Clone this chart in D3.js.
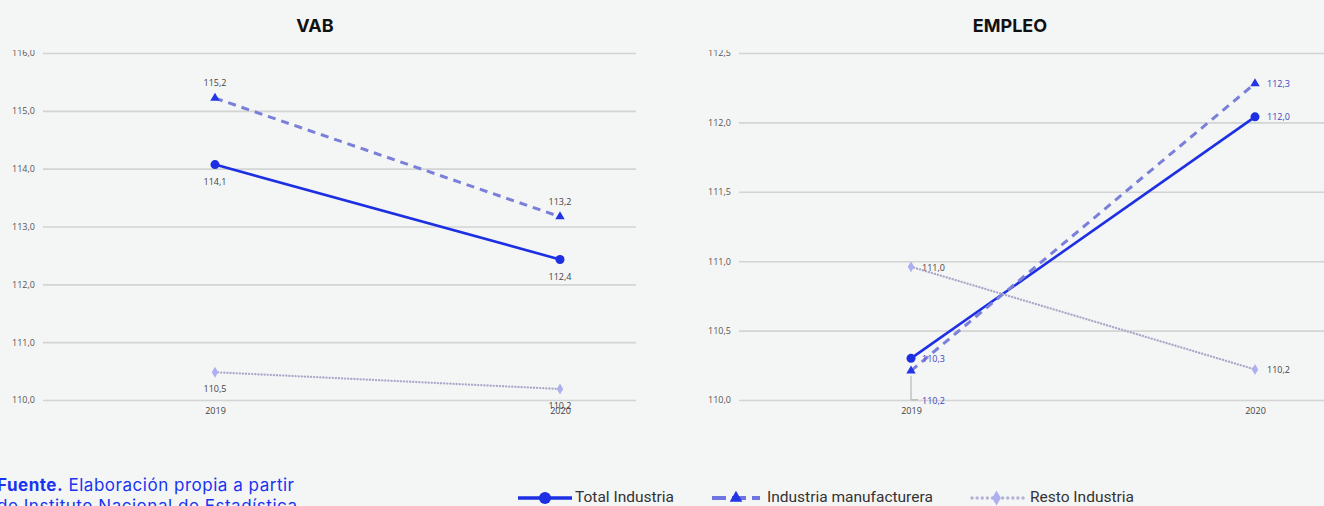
<!DOCTYPE html>
<html><head><meta charset="utf-8">
<script src="https://cdn.jsdelivr.net/npm/d3@7"></script>
<style>
html,body{margin:0;padding:0;background:#f4f5f5;}
svg{display:block;}
</style></head>
<body>
<svg id="c" width="1324" height="506"></svg>
<script>
// ---- data ----
const years = ["2019", "2020"];
const seriesNames = ["Total Industria", "Industria manufacturera", "Resto Industria"];
const vabTotal = [114.07, 112.43];
const vabManuf = [115.22, 113.17];
const vabResto = [110.48, 110.19];
const empTotal = [110.30, 112.04];
const empManuf = [110.21, 112.28];
const empResto = [110.96, 110.22];
const vabTicks = [110, 111, 112, 113, 114, 115, 116];
const empTicks = [110, 110.5, 111, 111.5, 112, 112.5];
const chartTitles = ["VAB", "EMPLEO"];

const fmt = d => d.toFixed(1).replace('.', ',');
const svg = d3.select("#c");
svg.append("rect").attr("width",1324).attr("height",506).attr("fill","#f4f5f5");

const styles = [
  {stroke:"#1d2fe3", width:2.6, dash:null, cap:"butt", marker:"circle", mfill:"#1d2fe3"},
  {stroke:"#7a7fd9", width:3, dash:"8,6", cap:"butt", marker:"triangle", mfill:"#2236e6"},
  {stroke:"#a9a9c9", width:2.3, dash:"0.1,3", cap:"round", marker:"diamond", mfill:"#aeaef2"}
];

svg.append("defs").append("clipPath").attr("id","clipTop")
  .append("rect").attr("x",0).attr("y",50).attr("width",1324).attr("height",400);

function marker(g, type, x, y, fill, s) {
  s = s || 1;
  if (type === "circle") g.append("circle").attr("cx",x).attr("cy",y).attr("r",4.5*s).attr("fill",fill);
  else if (type === "triangle") g.append("path").attr("d", d3.symbol(d3.symbolTriangle, 38*s*s)()).attr("transform",`translate(${x},${y})`).attr("fill",fill);
  else g.append("path").attr("d", d3.symbol(d3.symbolDiamond, 36*s*s)()).attr("transform",`translate(${x},${y})`).attr("fill",fill);
}

function chart(cfg) {
  const g = svg.append("g").attr("clip-path","url(#clipTop)");
  const y = d3.scaleLinear().domain(cfg.domain).range([400, 53]);
  const x = d3.scalePoint().domain(years).range(cfg.xr);
  const ax = g.append("g").attr("transform",`translate(${cfg.gx0},0)`)
    .call(d3.axisLeft(y).tickValues(cfg.ticks).tickFormat(fmt).tickSizeInner(-(cfg.gx1-cfg.gx0)).tickSizeOuter(0).tickPadding(8));
  ax.select(".domain").remove();
  ax.selectAll(".tick line").attr("stroke","#d3d4d4").attr("stroke-width",1.6);
  ax.selectAll(".tick text").attr("fill","#555").attr("font-size",9).attr("font-family","Open Sans, sans-serif");
  const xa = g.append("g").attr("transform","translate(0,400)")
    .call(d3.axisBottom(x).tickSize(0).tickPadding(8));
  xa.select(".domain").remove();
  xa.selectAll(".tick text").attr("fill","#444").attr("font-size",9).attr("font-family","Open Sans, sans-serif");

  const line = d3.line().x((d,i)=>x(years[i])).y(d=>y(d));
  cfg.series.forEach((vals, k) => {
    const st = styles[k];
    g.append("path").datum(vals).attr("d", line).attr("fill","none")
      .attr("stroke", st.stroke).attr("stroke-width", st.width)
      .attr("stroke-dasharray", st.dash).attr("stroke-linecap", st.cap);
  });
  cfg.series.forEach((vals, k) => {
    const st = styles[k];
    vals.forEach((v,i) => marker(g, st.marker, x(years[i]), y(v), st.mfill));
  });
  // labels
  cfg.series.forEach((vals, k) => {
    vals.forEach((v,i) => {
      const p = cfg.labelPos[k][i];
      const px = x(years[i]), py = y(v);
      if (p.leader) {
        g.append("path").attr("d",`M${px},${py+5}V${py+p.dy-1}l7,0`).attr("fill","none").attr("stroke","#aaa").attr("stroke-width",1);
      }
      g.append("text").attr("x", px + p.dx).attr("y", py + p.dy)
        .attr("dy","0.35em").attr("text-anchor", p.anchor)
        .attr("font-size",9).attr("font-family","Open Sans, sans-serif")
        .attr("fill", p.color || "#444").text(fmt(v));
    });
  });
  svg.append("text").attr("x", cfg.tx).attr("y", 26).attr("dy","0.35em").attr("text-anchor","middle")
    .attr("font-size",18).attr("font-weight","bold").attr("font-family","Inter, sans-serif").attr("fill","#111").text(cfg.title);
}

const ab = {dx:0, dy:-15, anchor:"middle"};
const be = {dx:0, dy:17, anchor:"middle"};
chart({
  title: chartTitles[0], tx: 315, domain:[110,116], ticks: vabTicks, gx0: 43, gx1: 636, xr:[215,560],
  series:[vabTotal, vabManuf, vabResto],
  labelPos:[[be,be],[ab,ab],[be,be]]
});
const blue = "#3b47c4";
chart({
  title: chartTitles[1], tx: 1010, domain:[110,112.5], ticks: empTicks, gx0: 739, gx1: 1324, xr:[911,1255],
  series:[empTotal, empManuf, empResto],
  labelPos:[
    [{dx:11, dy:0, anchor:"start", color:blue},{dx:12, dy:0, anchor:"start", color:blue}],
    [{dx:11, dy:30, anchor:"start", color:blue, leader:true},{dx:12, dy:0, anchor:"start", color:blue}],
    [{dx:11, dy:1, anchor:"start"},{dx:12, dy:0, anchor:"start"}]
  ]
});

// legend
const lg = svg.append("g");
const LY = 497;
const legX = [[518,572,575],[712,760,767],[972,1025,1030]];
seriesNames.forEach((name,k) => {
  const st = styles[k];
  const [x0,x1,tx] = legX[k];
  lg.append("line").attr("x1",x0).attr("x2",x1).attr("y1",LY+1).attr("y2",LY+1)
    .attr("stroke", k===1 ? "#6f74e0" : (k===2 ? "#b4b4d6" : st.stroke)).attr("stroke-width", k===0?3.6:(k===1?4:3.4))
    .attr("stroke-dasharray", k===1 ? "14,6" : (k===2 ? "0.1,5" : null)).attr("stroke-linecap", k===2?"round":"butt");
  marker(lg, st.marker, (x0+x1)/2 - (k===2?2:0), LY+1, st.mfill, 1.35);
  lg.append("text").attr("x",tx).attr("y",LY).attr("dy","0.35em")
    .attr("font-size",15.5).attr("font-family","Roboto, sans-serif").attr("fill","#333").text(name);
});

// source
const src = svg.append("text").attr("x",-3).attr("y",491).attr("font-size",17).attr("font-family","Inter, sans-serif").attr("fill","#1834f0")
  .attr("textLength",297);
src.append("tspan").attr("font-weight","bold").text("Fuente.");
src.append("tspan").text(" Elaboración propia a partir");
svg.append("text").attr("x",-3).attr("y",512).attr("font-size",17).attr("font-family","Inter, sans-serif").attr("fill","#1834f0")
  .attr("textLength",300).text("de Instituto Nacional de Estadística");
</script>
</body></html>
